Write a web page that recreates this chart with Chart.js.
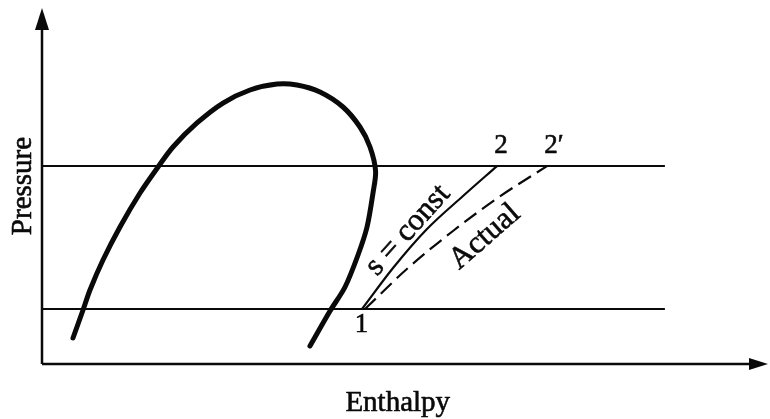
<!DOCTYPE html>
<html>
<head>
<meta charset="utf-8">
<script src="https://cdn.jsdelivr.net/npm/chart.js@4/dist/chart.umd.min.js"></script>
<style>
  html, body { margin: 0; padding: 0; background: #ffffff; }
  #wrap { width: 770px; height: 419px; }
</style>
</head>
<body>
<div id="wrap"><canvas id="chart" width="770" height="419"></canvas></div>
<script>
// Pressure–enthalpy sketch of a compression process (normalised 0–100 units)

// Saturation dome: liquid line up to the critical point, then vapour line down
const domeH = [4.27, 5.65, 6.61, 8.40, 10.74, 13.50, 15.98, 18.04, 21.35, 24.93, 28.65, 32.37, 35.12, 38.29, 41.46, 43.80, 45.18, 45.95, 45.59, 44.77, 43.53, 41.74, 39.67, 36.91];
const domeP = [7.30, 15.17, 20.79, 29.21, 38.48, 48.03, 55.34, 60.96, 67.70, 73.31, 76.97, 78.65, 78.37, 76.40, 72.19, 66.57, 60.96, 54.20, 48.03, 38.48, 30.62, 21.63, 14.89, 5.06];

// Constant-pressure lines (condenser / evaporator)
const pressureLevels = [55.6, 15.45];
const isobarH = [0, 85.8];

// Isentropic compression 1 -> 2
const isenH = [44.08, 48.35, 53.03, 57.99, 62.67];
const isenP = [15.45, 26.97, 37.92, 47.19, 55.6];

// Actual compression 1 -> 2'
const actualH = [44.49, 50.41, 56.61, 62.95, 69.56];
const actualP = [15.45, 26.97, 37.36, 46.91, 55.6];

// State point labels
const stateNames = ['1', '2', '2\u2032'];
const stateH = [44.0, 62.8, 69.6];
const stateP = [15.45, 55.6, 55.6];

// Process labels (text, anchor h, anchor p, angle in degrees)
const processNames = ['s = const', 'Actual'];
const processH = [50.4, 61.0];
const processP = [37.6, 35.7];
const processAngle = [-48, -41];

// Axis titles
const xTitle = 'Enthalpy';
const yTitle = 'Pressure';

const ink = '#0a0a0a';
const serif = '"Liberation Serif", "DejaVu Serif", serif';

const zip = (xs, ys) => xs.map((x, i) => ({ x, y: ys[i] }));

// Text with a hairline outline so the serif glyphs read as heavy print
function inkText(ctx, text, px, py) {
  ctx.fillText(text, px, py);
  ctx.strokeText(text, px, py);
}

const sketchDecor = {
  id: 'sketchDecor',
  afterDatasetsDraw(chart) {
    const { ctx, chartArea: a, scales: { x, y } } = chart;
    ctx.save();
    ctx.strokeStyle = ink;
    ctx.fillStyle = ink;

    // Axes
    ctx.lineWidth = 2.5;
    ctx.lineCap = 'butt';
    ctx.beginPath();
    ctx.moveTo(a.left, a.bottom);
    ctx.lineTo(a.left, a.top + 12);
    ctx.moveTo(a.left, a.bottom);
    ctx.lineTo(a.right - 12, a.bottom);
    ctx.stroke();

    // Arrow heads
    ctx.beginPath();
    ctx.moveTo(a.left, a.top);
    ctx.lineTo(a.left - 7, a.top + 22);
    ctx.lineTo(a.left + 7, a.top + 22);
    ctx.closePath();
    ctx.fill();
    ctx.beginPath();
    ctx.moveTo(a.right, a.bottom);
    ctx.lineTo(a.right - 19, a.bottom - 6);
    ctx.lineTo(a.right - 19, a.bottom + 6);
    ctx.closePath();
    ctx.fill();

    ctx.lineWidth = 0.6;
    ctx.lineJoin = 'round';

    // Axis titles
    ctx.font = '29px ' + serif;
    ctx.textAlign = 'center';
    ctx.textBaseline = 'alphabetic';
    inkText(ctx, xTitle, x.getPixelForValue(49), a.bottom + 47);
    ctx.save();
    ctx.translate(a.left - 11, y.getPixelForValue(50));
    ctx.rotate(-Math.PI / 2);
    inkText(ctx, yTitle, 0, 0);
    ctx.restore();

    // State labels
    ctx.font = '27px ' + serif;
    ctx.textAlign = 'center';
    inkText(ctx, stateNames[0], x.getPixelForValue(stateH[0]), y.getPixelForValue(stateP[0]) + 23);
    inkText(ctx, stateNames[1], x.getPixelForValue(stateH[1]) + 3, y.getPixelForValue(stateP[1]) - 13);
    ctx.textAlign = 'left';
    inkText(ctx, stateNames[2], x.getPixelForValue(stateH[2]) - 3, y.getPixelForValue(stateP[2]) - 13);

    // Process labels along the compression paths
    ctx.font = '31px ' + serif;
    ctx.textAlign = 'center';
    ctx.textBaseline = 'middle';
    processNames.forEach((t, i) => {
      ctx.save();
      ctx.translate(x.getPixelForValue(processH[i]), y.getPixelForValue(processP[i]));
      ctx.rotate(processAngle[i] * Math.PI / 180);
      inkText(ctx, t, 0, 0);
      ctx.restore();
    });

    ctx.restore();
  }
};

const lineStyle = { showLine: true, pointRadius: 0, borderColor: ink, fill: false };

new Chart(document.getElementById('chart'), {
  type: 'scatter',
  data: {
    datasets: [
      { ...lineStyle, data: zip(domeH, domeP), borderWidth: 5, tension: 0.3, borderCapStyle: 'round', borderJoinStyle: 'round' },
      { ...lineStyle, data: zip(isobarH, [pressureLevels[0], pressureLevels[0]]), borderWidth: 2 },
      { ...lineStyle, data: zip(isobarH, [pressureLevels[1], pressureLevels[1]]), borderWidth: 2 },
      { ...lineStyle, data: zip(isenH, isenP), borderWidth: 2.2, cubicInterpolationMode: 'monotone' },
      { ...lineStyle, data: zip(actualH, actualP), borderWidth: 2.2, cubicInterpolationMode: 'monotone', borderDash: [15, 7] }
    ]
  },
  options: {
    responsive: false,
    devicePixelRatio: 1,
    animation: false,
    layout: { padding: { left: 42, top: 8, right: 2, bottom: 55 } },
    scales: {
      x: { type: 'linear', min: 0, max: 100, display: false },
      y: { type: 'linear', min: 0, max: 100, display: false }
    },
    plugins: { legend: { display: false }, tooltip: { enabled: false } }
  },
  plugins: [sketchDecor]
});
</script>
</body>
</html>
